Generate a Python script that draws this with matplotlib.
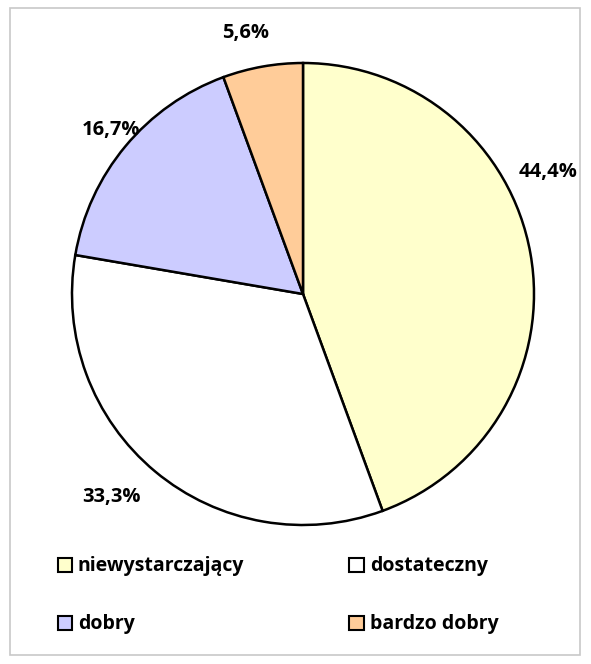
import matplotlib
matplotlib.use("Agg")
import matplotlib.pyplot as plt
from matplotlib.patches import Rectangle, Patch

plt.rcParams['font.family'] = ['Open Sans', 'DejaVu Sans']

# data
categories = ['niewystarczający', 'dostateczny', 'dobry', 'bardzo dobry']
shares = [44.4, 33.3, 16.7, 5.6]
colors = ['#FFFFCC', '#FFFFFF', '#CCCCFF', '#FFCC99']

fig = plt.figure(figsize=(5.91, 6.64), dpi=100)
ax = fig.add_axes([72 / 591, 139 / 664, 462 / 591, 462 / 664])

wedges, texts = ax.pie(shares, colors=colors, startangle=90, counterclock=False,
                       labels=[('%.1f%%' % s).replace('.', ',') for s in shares],
                       labeldistance=1.15,
                       wedgeprops=dict(edgecolor='black', linewidth=1.8),
                       textprops=dict(fontsize=14.5, fontweight='bold', color='black'))

# move labels where Excel put them
label_pos = [(1.06, 0.53), (-0.83, -0.88), (-0.83, 0.71), (-0.25, 1.13)]
for t, p in zip(texts, label_pos):
    t.set_position(p)
    t.set_ha('center')
    t.set_va('center')

ax.set_xlim(-1, 1)
ax.set_ylim(-1, 1)
ax.set_aspect('equal')
ax.axis('off')

# legend is filled row by row in the original
order = [0, 2, 1, 3]
handles = [Patch(facecolor=colors[i], edgecolor='black', linewidth=1.5) for i in order]
leg = fig.legend(handles, [categories[i] for i in order], ncol=2, loc='upper left',
                 bbox_to_anchor=(40 / 591, 1 - 539 / 664), frameon=False,
                 prop=dict(size=14, weight='bold'),
                 handlelength=0.75, handleheight=0.75, handletextpad=0.3,
                 columnspacing=5.4, labelspacing=1.95)

# chart frame
fig.patches.append(Rectangle((10 / 591, 1 - 655 / 664), 570 / 591, 647 / 664,
                             transform=fig.transFigure, fill=False,
                             edgecolor='#C8C8C8', linewidth=1.2))

fig.savefig('out.png', dpi=100)
